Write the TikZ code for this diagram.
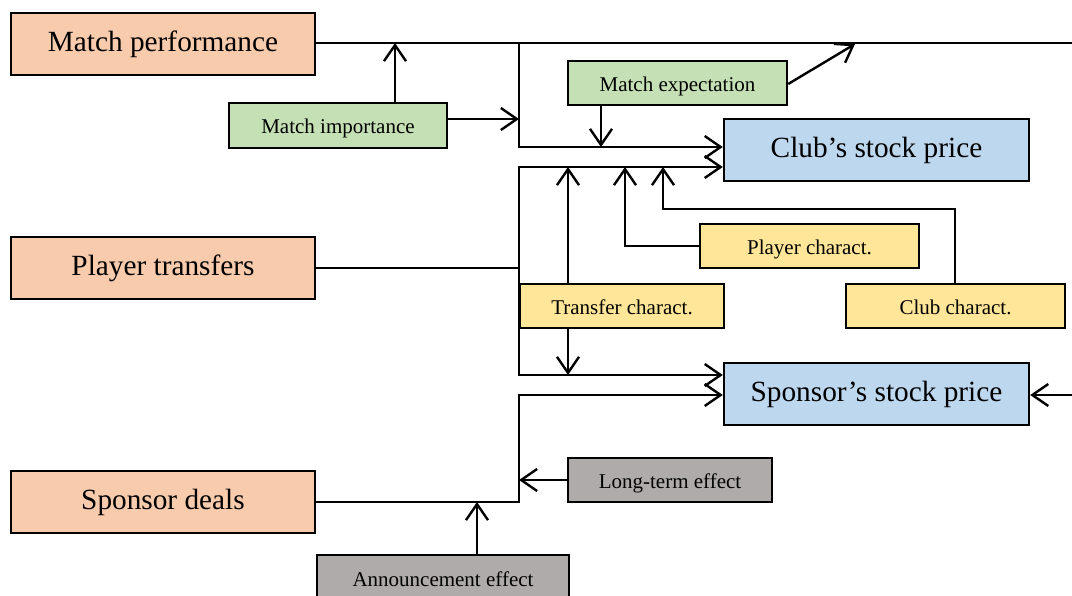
\documentclass[tikz,border=0pt]{standalone}
\usepackage{fontspec}
\setmainfont{Liberation Serif}
\usetikzlibrary{arrows.meta}
\definecolor{peach}{HTML}{F8CBAD}
\definecolor{mygreen}{HTML}{C5E0B4}
\definecolor{myblue}{HTML}{BDD7EE}
\definecolor{myyellow}{HTML}{FFE699}
\definecolor{mygray}{HTML}{AFABAB}
\begin{document}
\begin{tikzpicture}[x=1pt,y=-1pt,line width=2.4pt,
  box/.style={draw=black,inner sep=0pt,anchor=center},
  bigbox/.style={box,minimum width=304pt,minimum height=62pt,font=\fontsize{29.3}{34}\selectfont,text height=19.3pt,text depth=4pt},
  smallbox/.style={box,minimum height=44pt,font=\fontsize{21}{25}\selectfont,text height=16.8pt,text depth=0pt},
  arr/.style={-{Straight Barb[length=16pt,width=22pt,line width=2.4pt]}}]
\clip (0,0) rectangle (1072,596);
\useasboundingbox (0,0) rectangle (1072,596);
% nodes
\node[bigbox,fill=peach] (mp) at (163,44) {Match performance};
\node[bigbox,fill=peach] (pt) at (163,268) {Player transfers};
\node[bigbox,fill=peach] (sd) at (163,502) {Sponsor deals};
\node[smallbox,fill=mygreen,minimum width=218pt,minimum height=45pt] (mi) at (338,125.5) {Match importance};
\node[smallbox,fill=mygreen,minimum width=219pt] (me) at (677.5,83) {Match expectation};
\node[bigbox,fill=myblue,minimum width=305pt] (csp) at (876.5,150) {Club’s stock price};
\node[smallbox,fill=myyellow,minimum width=219pt] (pc) at (809.5,246) {Player charact.};
\node[smallbox,fill=myyellow,minimum width=204pt] (tc) at (622,306) {Transfer charact.};
\node[smallbox,fill=myyellow,minimum width=219pt] (cc) at (955.5,306) {Club charact.};
\node[bigbox,fill=myblue,minimum width=305pt] (ssp) at (876.5,394) {Sponsor’s stock price};
\node[smallbox,fill=mygray,minimum width=204pt] (lte) at (670,480) {Long-term effect};
\node[smallbox,fill=mygray,minimum width=252pt,minimum height=46pt] (ae) at (443,578) {Announcement effect};
% coordinates
\coordinate (rightend) at (1085,43);
\coordinate (j1) at (519,43);
\coordinate (a1) at (519,147);
\coordinate (a2) at (519,167);
\coordinate (j2) at (519,375);
\coordinate (a3) at (519,395);
\coordinate (j3) at (519,502);
\coordinate (miup) at (395,43);
\coordinate (mir) at (519,119);
\coordinate (med) at (601,147);
\coordinate (met) at (855,44);
\coordinate (tcu) at (568,167);
\coordinate (tcd) at (568,375);
\coordinate (pcu) at (625,167);
\coordinate (cck) at (955,209);
\coordinate (ccu) at (663,167);
\coordinate (aeu) at (477,502);
\coordinate (rr) at (1085,395);
% connectors
\draw (mp.east |- rightend) -- (rightend);
\draw[arr] (j1) -- (a1) -- (csp.west |- a1);
\draw[arr] (mi.north -| miup) -- (miup);
\draw[arr] (mi.east |- mir) -- (mir);
\draw[arr] (me.south -| med) -- (med);
\draw[arr] ([yshift=-1pt]me.east) -- (met);
\draw[arr] (j2) -- (a2) -- (csp.west |- a2);
\draw[arr] (a2) -- (j2) -- (ssp.west |- j2);
\draw (pt.east) -- (pt.east -| j2);
\draw[arr] (tc.north -| tcu) -- (tcu);
\draw[arr] (tc.south -| tcd) -- (tcd);
\draw[arr] (pc.west) -| (pcu);
\draw[arr] (cc.north -| cck) -- (cck) -| (ccu);
\draw[arr] (sd.east) -- (j3) -- (a3) -- (ssp.west |- a3);
\draw[arr] (lte.west) -- (lte.west -| j3);
\draw[arr] (ae.north -| aeu) -- (aeu);
\draw[arr] (rr) -- (ssp.east |- rr);
\end{tikzpicture}
\end{document}
